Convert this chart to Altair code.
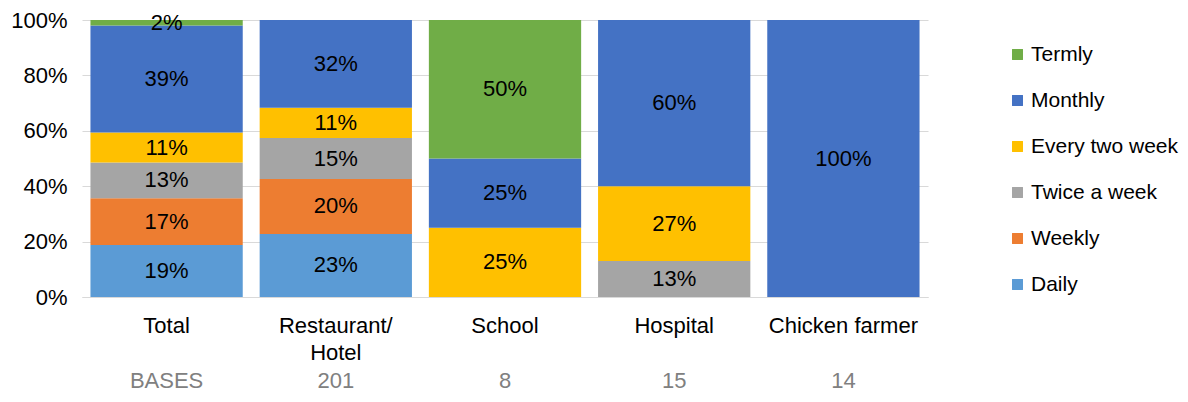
import altair as alt
import pandas as pd

categories = ["Total", "Restaurant/Hotel", "School", "Hospital", "Chicken farmer"]
bases = ["BASES", "201", "8", "15", "14"]
frequencies = ["Daily", "Weekly", "Twice a week", "Every two week", "Monthly", "Termly"]
legend_order = ["Termly", "Monthly", "Every two week", "Twice a week", "Weekly", "Daily"]
colors = ["#70AD47", "#4472C4", "#FFC000", "#A5A5A5", "#ED7D31", "#5B9BD5"]

daily = [19, 23, 0, 0, 0]
weekly = [17, 20, 0, 0, 0]
twice_a_week = [13, 15, 0, 13, 0]
every_two_week = [11, 11, 25, 27, 0]
monthly = [39, 32, 25, 60, 100]
termly = [2, 0, 50, 0, 0]

series = [daily, weekly, twice_a_week, every_two_week, monthly, termly]
rows = []
for si, (fname, vals) in enumerate(zip(frequencies, series)):
    for ci, (cat, v) in enumerate(zip(categories, vals)):
        if v > 0:
            rows.append({"category": cat, "freq": fname, "value": v, "order": si})
df = pd.DataFrame(rows)
base_df = pd.DataFrame({"category": categories, "base": bases})

FONT = "Liberation Sans"
FS = 22

xenc = alt.X(
    "category:N",
    sort=categories,
    scale=alt.Scale(paddingInner=0.1, paddingOuter=0.05),
    axis=alt.Axis(
        title=None,
        labelAngle=0,
        ticks=False,
        labelPadding=18,
        labelFontSize=FS,
        labelColor="#000000",
        labelFont=FONT,
        labelLineHeight=27,
        domainColor="#D9D9D9",
        labelExpr="datum.label == 'Restaurant/Hotel' ? ['Restaurant/', 'Hotel'] : datum.label",
    ),
)

base = alt.Chart(df).transform_joinaggregate(
    total="sum(value)", groupby=["category"]
).transform_window(
    cum="sum(value)", groupby=["category"], sort=[alt.SortField("order")], frame=[None, 0]
).transform_calculate(
    y0="(datum.cum - datum.value) / datum.total",
    y1="datum.cum / datum.total",
    ymid="(datum.cum - datum.value / 2) / datum.total",
    label="datum.value + '%'",
)

bars = base.mark_bar().encode(
    x=xenc,
    y=alt.Y(
        "y0:Q",
        scale=alt.Scale(domain=[0, 1], nice=False),
        axis=alt.Axis(
            title=None,
            format=".0%",
            values=[0, 0.2, 0.4, 0.6, 0.8, 1.0],
            ticks=False,
            domain=False,
            labelPadding=15,
            labelFontSize=FS,
            labelColor="#000000",
            labelFont=FONT,
            gridColor="#D9D9D9",
        ),
    ),
    y2="y1:Q",
    color=alt.Color(
        "freq:N",
        scale=alt.Scale(domain=legend_order, range=colors),
        legend=alt.Legend(
            title=None,
            orient="none",
            legendX=925,
            legendY=24,
            symbolType="square",
            symbolSize=120,
            symbolStrokeWidth=0,
            symbolOpacity=1,
            labelFontSize=21,
            labelFont=FONT,
            labelColor="#000000",
            labelOffset=3,
            rowPadding=24,
        ),
    ),
)

labels = base.mark_text(fontSize=FS, font=FONT, color="#000000", baseline="middle").encode(
    x=alt.X("category:N", sort=categories),
    y=alt.Y("ymid:Q"),
    text="label:N",
)

base_text = alt.Chart(base_df).mark_text(
    fontSize=FS, font=FONT, color="#808080", baseline="middle"
).encode(
    x=alt.X("category:N", sort=categories),
    y=alt.value(361),
    text="base:N",
)

chart = alt.layer(bars, labels, base_text).properties(
    width=846,
    height=277,
    autosize=alt.AutoSizeParams(type="none"),
    padding={"left": 74, "top": 12, "right": 252, "bottom": 97},
).configure_view(stroke=None).configure_axis(labelFont=FONT)

chart.save("out.html", embed_options={"renderer": "svg", "actions": False})
